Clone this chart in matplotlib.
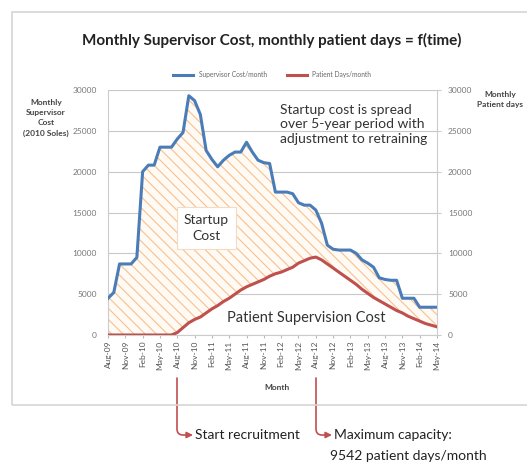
import numpy as np
import matplotlib
matplotlib.use('Agg')
import matplotlib.pyplot as plt
from matplotlib.patches import Rectangle

plt.rcParams['font.family'] = ['Lato', 'DejaVu Sans']
plt.rcParams['hatch.linewidth'] = 0.8

# monthly values, Aug-09 .. May-14
months = ['Aug-09', 'Sep-09', 'Oct-09', 'Nov-09', 'Dec-09', 'Jan-10', 'Feb-10', 'Mar-10', 'Apr-10', 'May-10',
          'Jun-10', 'Jul-10', 'Aug-10', 'Sep-10', 'Oct-10', 'Nov-10', 'Dec-10', 'Jan-11', 'Feb-11', 'Mar-11',
          'Apr-11', 'May-11', 'Jun-11', 'Jul-11', 'Aug-11', 'Sep-11', 'Oct-11', 'Nov-11', 'Dec-11', 'Jan-12',
          'Feb-12', 'Mar-12', 'Apr-12', 'May-12', 'Jun-12', 'Jul-12', 'Aug-12', 'Sep-12', 'Oct-12', 'Nov-12',
          'Dec-12', 'Jan-13', 'Feb-13', 'Mar-13', 'Apr-13', 'May-13', 'Jun-13', 'Jul-13', 'Aug-13', 'Sep-13',
          'Oct-13', 'Nov-13', 'Dec-13', 'Jan-14', 'Feb-14', 'Mar-14', 'Apr-14', 'May-14']
supervisor_cost = [4500, 5200, 8700, 8700, 8700, 9500, 20000, 20800, 20800, 23000,
                   23000, 23000, 24000, 24800, 29300, 28700, 27000, 22600, 21500, 20600,
                   21400, 22000, 22400, 22400, 23600, 22400, 21400, 21100, 21000, 17500,
                   17500, 17500, 17300, 16200, 15900, 15900, 15300, 13700, 11000, 10500,
                   10400, 10400, 10400, 10000, 9200, 8800, 8300, 7000, 6800, 6700,
                   6700, 4500, 4500, 4500, 3400, 3400, 3400, 3400]
patient_days = [0, 0, 0, 0, 0, 0, 0, 0, 0, 0,
                0, 0, 300, 900, 1500, 1900, 2200, 2700, 3200, 3600,
                4100, 4500, 5000, 5500, 5900, 6200, 6500, 6800, 7200, 7500,
                7700, 8000, 8300, 8800, 9100, 9400, 9542, 9200, 8700, 8200,
                7700, 7200, 6700, 6200, 5600, 5100, 4600, 4200, 3800, 3400,
                3000, 2700, 2300, 2000, 1700, 1400, 1200, 1000]
y_ticks = [0, 5000, 10000, 15000, 20000, 25000, 30000]

W, H = 527, 462
fig = plt.figure(figsize=(W / 100, H / 100), dpi=100)
ax = fig.add_axes([108 / W, 1 - 335 / H, 329 / W, 245 / H])
x = np.arange(len(months))

blue = '#4a7cb8'
red = '#c0504d'

ax.fill_between(x, patient_days, supervisor_cost, facecolor='#fffaf3', edgecolor='#f7c08f',
                hatch='\\\\\\', linewidth=0, zorder=1)
ax.plot(x, supervisor_cost, color=blue, lw=2.2, label='Supervisor Cost/month', zorder=3)
ax.plot(x, patient_days, color=red, lw=2.2, label='Patient Days/month', zorder=3)

ax.set_xlim(0, len(months) - 1)
ax.set_ylim(0, 30000)
ax.set_yticks(y_ticks)
ax.set_xticks(x[::3])
ax.set_xticklabels(months[::3], rotation=90, fontsize=6, color='#555555')
ax.tick_params(axis='y', labelsize=6, labelcolor='#777777', length=0, pad=8)
ax.tick_params(axis='x', length=2, color='#bbbbbb', pad=2)
ax.grid(axis='y', color='#c8c8c8', lw=0.8)
ax.set_axisbelow(True)
for s in ['top', 'right']:
    ax.spines[s].set_visible(False)
ax.spines['left'].set_color('#cccccc')
ax.spines['bottom'].set_color('#cccccc')

ax2 = ax.twinx()
ax2.set_ylim(0, 30000)
ax2.set_yticks(y_ticks)
ax2.tick_params(axis='y', labelsize=6, labelcolor='#777777', length=3, color='#cccccc', pad=5)
for s in ['top', 'left', 'bottom']:
    ax2.spines[s].set_visible(False)
ax2.spines['right'].set_color('#cccccc')

# text inside the plot
ax.text(17, 13100, 'Startup\nCost', ha='center', va='center', fontsize=10, color='#333333',
        linespacing=1.4, zorder=4,
        bbox=dict(boxstyle='square,pad=0.5', facecolor='white', edgecolor='#f2dcc4', lw=0.8))
ax.text(34.3, 2100, 'Patient Supervision Cost', ha='center', va='center', fontsize=10.5,
        color='#333333', zorder=4)
ax.text(29.8, 28300, 'Startup cost is spread\nover 5-year period with\nadjustment to retraining',
        ha='left', va='top', fontsize=10, color='#333333', linespacing=1.25, zorder=4)

fig.legend(loc='center', bbox_to_anchor=(272 / W, 1 - 75 / H), ncol=2, frameon=False,
           fontsize=4.8, handlelength=3, columnspacing=3, labelcolor='#666666')
fig.text(272 / W, 1 - 40 / H, 'Monthly Supervisor Cost, monthly patient days = f(time)',
         ha='center', va='center', fontsize=11, fontweight='bold', color='#222222')
fig.text(46 / W, 1 - 118 / H, 'Monthly\nSupervisor\nCost\n(2010 Soles)', ha='center', va='center',
         fontsize=6, fontweight='bold', color='#444444', linespacing=1.5)
fig.text(500 / W, 1 - 100 / H, 'Monthly\nPatient days', ha='center', va='center',
         fontsize=6, fontweight='bold', color='#444444', linespacing=1.5)
fig.text(277 / W, 1 - 388 / H, 'Month', ha='center', va='center', fontsize=6,
         fontweight='bold', color='#444444')

# chart frame
fig.add_artist(Rectangle((12 / W, 1 - 405 / H), 540 / W, 393 / H, transform=fig.transFigure,
                         facecolor='none', edgecolor='#d5d5d5', lw=1.2))

# arrows to the notes below
arrow = dict(arrowstyle='-|>', color='#c0504d', lw=1.2, mutation_scale=9,
             connectionstyle='angle,angleA=90,angleB=0,rad=6', shrinkA=0, shrinkB=0)
ax.annotate('', xy=(193 / W, 1 - 435 / H), xycoords='figure fraction',
            xytext=(177 / W, 1 - 378 / H), textcoords='figure fraction', arrowprops=arrow)
ax.annotate('', xy=(332 / W, 1 - 435 / H), xycoords='figure fraction',
            xytext=(316 / W, 1 - 378 / H), textcoords='figure fraction', arrowprops=arrow)
fig.text(195 / W, 1 - 435 / H, 'Start recruitment', ha='left', va='center', fontsize=10,
         color='#222222')
fig.text(334 / W, 1 - 435 / H, 'Maximum capacity:', ha='left', va='center', fontsize=10,
         color='#222222')
fig.text(330 / W, 1 - 456 / H, '9542 patient days/month', ha='left', va='center', fontsize=10,
         color='#222222')

fig.savefig('out.png', dpi=100)
